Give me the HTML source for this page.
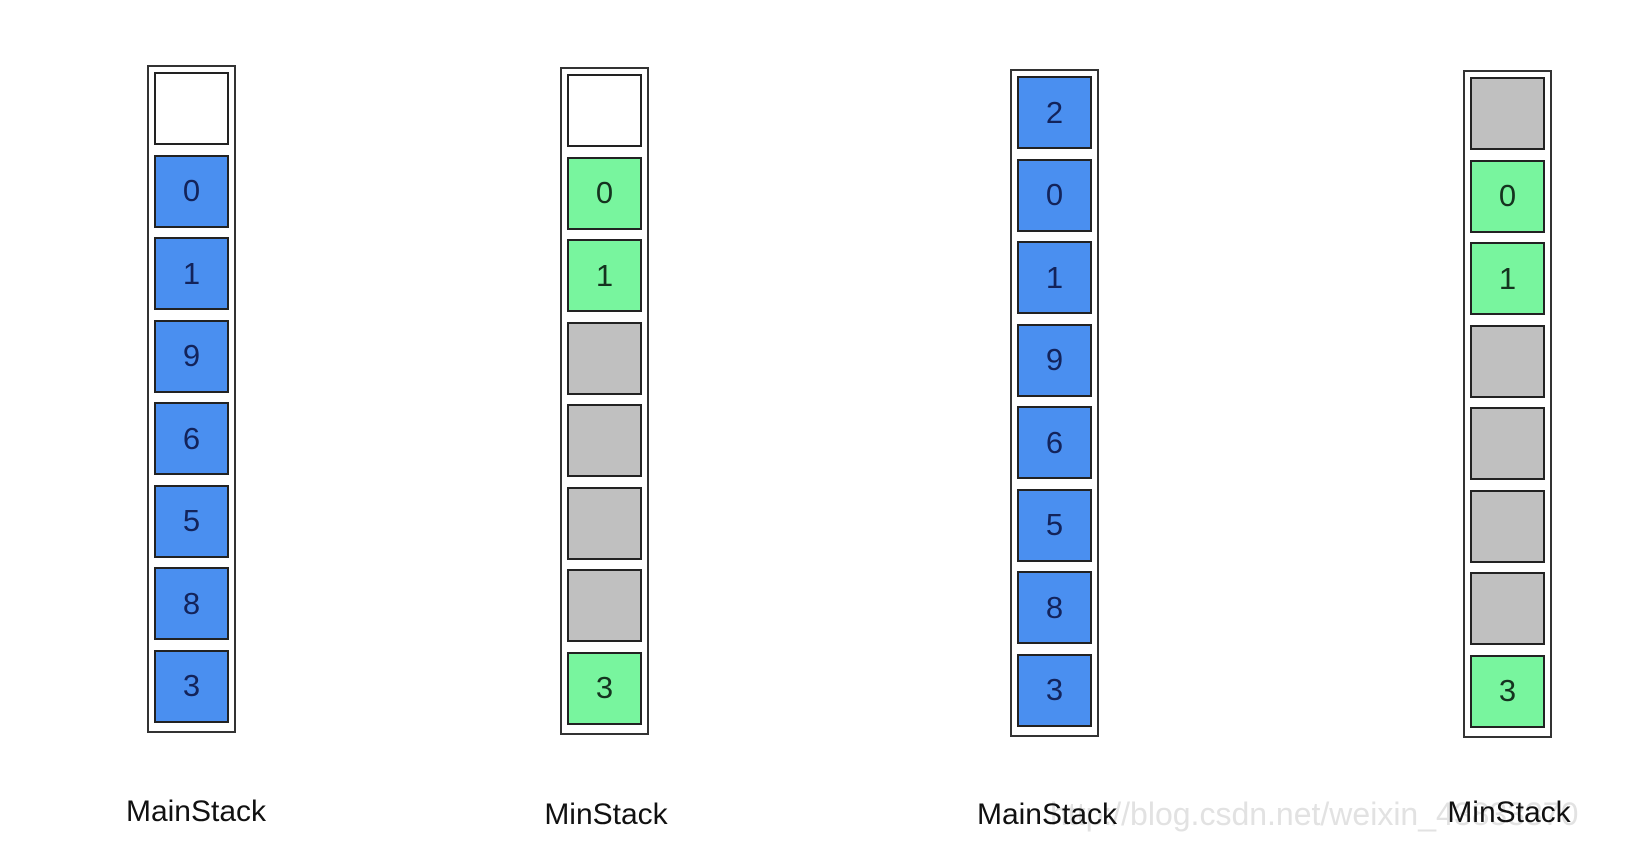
<!DOCTYPE html>
<html><head><meta charset="utf-8"><style>
html,body{margin:0;padding:0;background:#fff;}
#wrap{position:relative;width:1642px;height:858px;overflow:hidden;font-family:"Liberation Sans","DejaVu Sans",sans-serif;}
.stack{position:absolute;width:85px;height:664px;border:2px solid #333;background:#fff;box-sizing:content-box;}
.cell{position:absolute;left:5px;width:71px;height:69px;border:2px solid #222;box-sizing:content-box;display:flex;align-items:center;justify-content:center;font-size:31px;}
.lbl{position:absolute;font-size:30px;color:#111;transform:translateX(-50%);white-space:nowrap;}
.wm{position:absolute;left:1050px;top:796px;font-size:32px;color:#e2e2e2;white-space:nowrap;}
</style></head><body>
<div id="wrap">
<div class="wm">http://blog.csdn.net/weixin_43833370</div>
</div>
<script>
const stackNames = ["MainStack","MinStack","MainStack","MinStack"];
const stackValues = [
  ["", "0","1","9","6","5","8","3"],
  ["", "0","1","","","","","3"],
  ["2","0","1","9","6","5","8","3"],
  ["", "0","1","","","","","3"]
];
const stackKinds = ["main","min","main","min"];
const stackX = [147,560,1010,1463];
const stackY = [65,67,69,70];
const labelX = [196,606,1047,1509];
const labelY = [795,798,798,796];
const wrap = document.getElementById('wrap');
stackValues.forEach((vals, si) => {
  const s = document.createElement('div');
  s.className = 'stack';
  
  
  s.style.left = stackX[si] + 'px';
  s.style.top = stackY[si] + 'px';
  vals.forEach((v, ci) => {
    const c = document.createElement('div');
    c.className = 'cell';
    
    
    c.style.top = (5 + ci * 82.5) + 'px';
    let bg = '#fff', col = '#111';
    if (v !== '') {
      if (stackKinds[si] === 'main') { bg = '#4a8ff0'; col = '#13235a'; }
      else { bg = '#78f59e'; col = '#15331f'; }
    } else if (ci > 0 || (stackKinds[si] === 'min' && si === 3)) {
      bg = '#c0c0c0';
    }
    c.style.background = bg;
    c.style.color = col;
    c.textContent = v;
    s.appendChild(c);
  });
  wrap.appendChild(s);
  const l = document.createElement('div');
  l.className = 'lbl';
  
  
  l.style.left = labelX[si] + 'px';
  l.style.top = labelY[si] + 'px';
  l.textContent = stackNames[si];
  wrap.appendChild(l);
});
</script>
</body></html>
